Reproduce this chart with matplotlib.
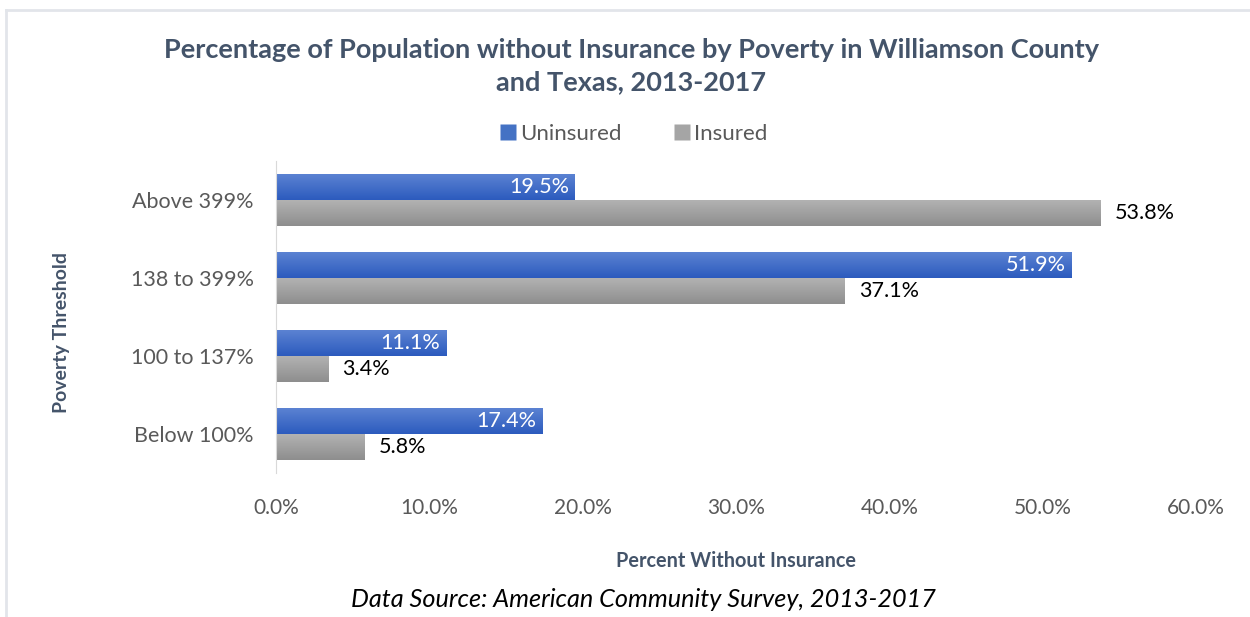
import matplotlib.pyplot as plt
import numpy as np
from matplotlib.lines import Line2D
from matplotlib.colors import LinearSegmentedColormap

categories = ['Below 100%', '100 to 137%', '138 to 399%', 'Above 399%']
uninsured = [17.4, 11.1, 51.9, 19.5]
insured = [5.8, 3.4, 37.1, 53.8]
xticks = [0, 10, 20, 30, 40, 50, 60]

plt.rcParams['font.family'] = ['Lato', 'DejaVu Sans']

fig = plt.figure(figsize=(12.5, 6.17), dpi=100)
ax = fig.add_axes([0.2208, 0.2334, 0.736, 0.5057])

y = np.arange(len(categories))
h = 0.333
blue_bars = ax.barh(y + h / 2, uninsured, height=h, color='#4472C4')
gray_bars = ax.barh(y - h / 2, insured, height=h, color='#A5A5A5')

# gradient fill over each bar
blue_cmap = LinearSegmentedColormap.from_list('b', ['#2C5BBE', '#5B82D2'])
gray_cmap = LinearSegmentedColormap.from_list('g', ['#8E8E8E', '#B2B2B2'])
grad = np.linspace(0, 1, 50).reshape(-1, 1)
for bars, cmap in ((blue_bars, blue_cmap), (gray_bars, gray_cmap)):
    for b in bars:
        x0, y0 = b.get_x(), b.get_y()
        w, hh = b.get_width(), b.get_height()
        im = ax.imshow(grad, cmap=cmap, aspect='auto', origin='lower',
                       extent=[x0, x0 + w, y0, y0 + hh], zorder=2)
        im.set_clip_path(b)
        b.set_alpha(0)

for b, v in zip(blue_bars, uninsured):
    ax.text(v - 0.4, b.get_y() + b.get_height() / 2, f'{v:.1f}%', ha='right',
            va='center', color='white', fontsize=15.5, zorder=3)
for b, v in zip(gray_bars, insured):
    ax.text(v + 0.9, b.get_y() + b.get_height() / 2, f'{v:.1f}%', ha='left',
            va='center', color='black', fontsize=15.5, zorder=3)

ax.set_xlim(0, 60)
ax.set_ylim(-0.5, 3.5)
ax.set_xticks(xticks)
ax.set_xticklabels([f'{t:.1f}%' for t in xticks], color='#595959', fontsize=15)
ax.set_yticks(y)
ax.set_yticklabels(categories, color='#595959', fontsize=15.5)
ax.tick_params(length=0, pad=16, axis='y')
ax.tick_params(length=0, pad=18, axis='x')
for s in ['top', 'right', 'bottom']:
    ax.spines[s].set_visible(False)
ax.spines['left'].set_color('#D9D9D9')

ax.set_xlabel('Percent Without Insurance', fontsize=14.3, fontweight='bold',
              color='#44546A', labelpad=24)
ax.set_ylabel('Poverty Threshold', fontsize=14, fontweight='bold',
              color='#44546A')
ax.yaxis.set_label_coords(-0.224, 0.449)

fig.text(0.505, 0.893, 'Percentage of Population without Insurance by Poverty in Williamson County\nand Texas, 2013-2017',
         ha='center', va='center', fontsize=19.5, fontweight='bold', color='#44546A',
         linespacing=1.45)

handles = [Line2D([], [], marker='s', color='none', markerfacecolor='#4472C4',
                  markeredgecolor='none', markersize=11),
           Line2D([], [], marker='s', color='none', markerfacecolor='#A5A5A5',
                  markeredgecolor='none', markersize=11)]
fig.legend(handles, ['Uninsured', 'Insured'], loc='center', bbox_to_anchor=(0.506, 0.783),
           ncol=2, frameon=False, fontsize=16, labelcolor='#595959',
           handletextpad=0.05, columnspacing=2.2, handlelength=1.0)

fig.text(0.515, 0.028, 'Data Source: American Community Survey, 2013-2017',
         ha='center', va='center', fontsize=18.2, style='italic', color='black')

# chart border
fig.add_artist(Line2D([0.005, 0.005], [0, 0.983], color='#E2E5EA', lw=2))
fig.add_artist(Line2D([0.005, 1], [0.983, 0.983], color='#E2E5EA', lw=2))

fig.savefig('out.png', dpi=100)
